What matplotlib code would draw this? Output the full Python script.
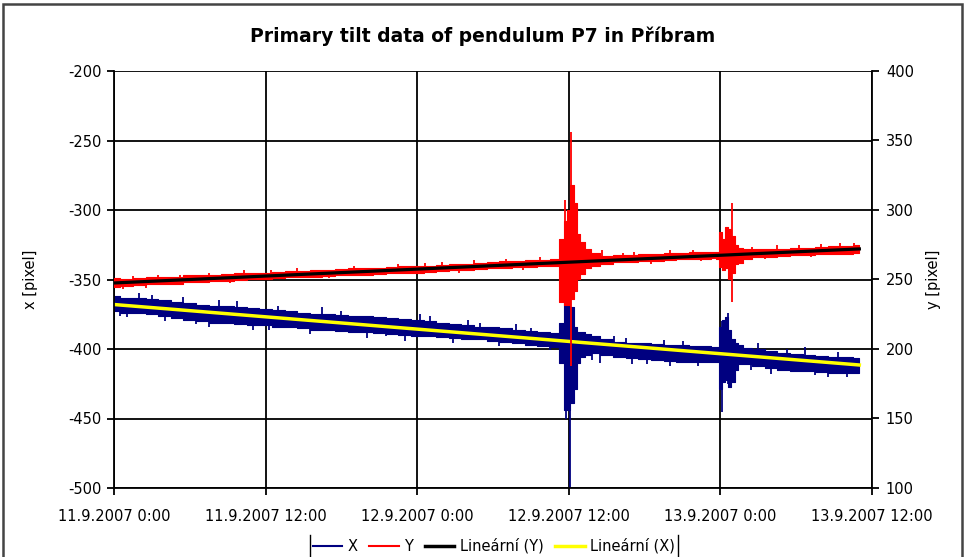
import matplotlib.pyplot as plt
from matplotlib.lines import Line2D
from matplotlib.patches import Rectangle

plt.rcParams['font.family'] = ['DejaVu Sans']
plt.rcParams['axes.unicode_minus'] = False

# time axis in hours since 11.9.2007 0:00 (finer steps around the two events)
t = [0, 1, 2, 3, 4, 5, 6, 7, 8, 9, 10, 11, 12, 13, 14, 15, 16, 17, 18, 19,
     20, 21, 22, 23, 24, 25, 26, 27, 28, 29, 30, 31, 32, 33, 34, 35,
     35.5, 35.75, 36, 36.25, 36.5, 36.75, 37, 37.5, 38,
     39, 40, 41, 42, 43, 44, 45, 46, 47,
     47.5, 47.75, 48, 48.25, 48.5, 48.75, 49, 49.25, 49.5,
     50, 51, 52, 53, 54, 55, 56, 57, 58, 59]

# upper / lower envelope of the X series (left axis)
x_hi = [-362, -363, -363.5, -364, -365, -366, -367, -368, -369, -369,
        -370, -370.5, -371, -372, -373, -374, -375, -375, -375.5, -376,
        -376.5, -377, -378, -378.5, -379, -380, -381, -382, -383, -384,
        -384.5, -385, -386, -387, -388, -388.5,
        -381, -360, -361, -370, -384, -388, -388, -389, -391,
        -393, -395, -395.5, -396, -396.5, -397, -397, -397.5, -398,
        -398.5, -398.5, -384, -379, -377, -386, -393, -396, -397,
        -399, -400, -401.5, -403, -403.5, -404, -405, -405.5, -406, -406.5]
x_lo = [-373, -374, -374, -375, -376.5, -377.5, -379, -380, -381, -381.5,
        -382, -382.5, -383, -384, -384.5, -385, -386, -386.5, -387, -387.5,
        -388, -388.5, -389.5, -390, -391, -391, -391.5, -392, -392.5, -393,
        -394, -395, -396, -397, -398, -398.5,
        -410, -444, -444, -439, -429, -410, -406, -404, -403,
        -404.5, -406, -406.5, -407.5, -408, -408.5, -409, -409, -409,
        -409, -409.5, -429, -424, -422, -427, -424, -415, -411,
        -411, -412, -413.5, -415, -415.5, -416, -416.5, -417, -417, -417.5]

# upper / lower envelope of the Y series (right axis)
y_hi = [251, 250.5, 251, 251.5, 252, 252, 253, 253, 253.5, 254,
        254.5, 254.5, 255, 255.5, 256, 256, 256.5, 257, 257.5, 258,
        258, 258.5, 259, 259.5, 260, 260, 260.5, 261.5, 261.5, 262,
        262.5, 263, 263.5, 264, 264, 264.5,
        279, 292, 300, 318, 305, 283, 277, 272, 269,
        267, 267.5, 267.5, 268, 268.5, 269, 269, 269.5, 269.5,
        270, 270, 284, 279, 288, 286, 281, 275, 273,
        272, 272, 272, 272, 272.5, 273, 273.5, 274, 274, 274.5]
y_lo = [244.5, 245.5, 246, 246.5, 247, 247, 248, 248.5, 249, 249,
        249.5, 250, 250.5, 251, 251.5, 251.5, 252, 252.5, 253, 253.5,
        253.5, 254, 254.5, 255, 255, 255.5, 256, 256.5, 257, 257.5,
        258, 258.5, 259, 259, 259.5, 260,
        234, 232, 232, 236, 242, 250, 254, 258, 260,
        261.5, 262.5, 262.5, 263, 263.5, 264, 264.5, 265, 265,
        265.5, 265, 259, 257, 258, 250, 255, 261, 262,
        264.5, 266, 266.5, 267, 267.5, 267.5, 268, 268.5, 268.5, 269]

# single narrow excursions: (hour, low, high)
x_peaks = [(0.5, -376, -366), (1.0, -377, -368), (2.0, -368, -360), (3.0, -371, -361.5),
           (4.0, -380, -371), (5.5, -371, -362.5), (6.5, -382, -372), (7.5, -384, -374),
           (8.3, -374, -365), (9.7, -372, -365.5), (11.0, -386, -376), (12.3, -386, -377),
           (13.0, -378, -369), (15.5, -389.5, -380), (16.5, -377, -370), (18.0, -381, -372.5),
           (20.0, -392, -382), (21.5, -391, -382), (23.0, -394, -384), (24.2, -382, -375),
           (25.0, -385, -376.5), (26.8, -395.5, -386), (28.0, -386, -379), (29.0, -388, -381),
           (30.5, -398, -389), (31.8, -390, -382), (33.0, -392, -385), (34.5, -401, -393),
           (35.8, -450, -400), (36.1, -500, -420), (37.8, -408, -397),
           (38.5, -410, -398), (39.6, -400, -391), (40.5, -400, -392), (41.0, -411, -400),
           (42.2, -411, -402), (43.5, -402, -393.5), (44.0, -412, -402), (45.0, -403, -394),
           (46.2, -412, -404), (48.1, -445, -380), (48.6, -425, -374),
           (50.4, -415, -405), (51.0, -406, -396), (52.0, -418, -407), (53.3, -408, -400),
           (54.7, -409, -398.5), (55.5, -419, -410), (56.5, -420, -410), (57.3, -410, -402),
           (58.0, -420, -411)]
y_peaks = [(0.7, 243, 247), (1.5, 248, 252.5), (2.5, 244, 248), (3.5, 249, 253.5),
           (5.2, 249, 253.5), (7.5, 250.5, 255), (9.2, 247.5, 251), (10.3, 252, 256.5),
           (12.4, 253, 257), (14.5, 253.5, 258), (17.0, 251, 254.5), (19.0, 255.5, 260),
           (20.6, 253, 256.5), (22.5, 257, 261.5), (24.6, 258, 262), (26.0, 258, 262.5),
           (27.3, 255, 258.5), (28.5, 259.5, 264), (31.0, 260.5, 265), (32.4, 257, 260.5),
           (33.7, 261.5, 266), (35.7, 262, 307), (36.2, 188, 356), (38.6, 264, 271),
           (40.3, 264, 269), (41.2, 265, 270), (42.5, 261, 265), (44.0, 266, 271),
           (45.8, 267, 271.5), (46.5, 263, 267), (48.9, 234, 305),
           (50.5, 268, 273.5), (51.5, 264.5, 268), (52.5, 269, 274.5), (54.2, 270, 275),
           (55.2, 266, 269.5), (56.0, 270.5, 275.5), (57.5, 271, 276), (58.6, 272, 276)]

# linear trend lines (end points)
trend_t = [0, 59]
x_trend = [-368, -411.5]
y_trend = [247.5, 272]

tick_hours = [0, 12, 24, 36, 48, 60]
tick_labels = ["11.9.2007 0:00", "11.9.2007 12:00", "12.9.2007 0:00",
               "12.9.2007 12:00", "13.9.2007 0:00", "13.9.2007 12:00"]

NAVY = "#000080"
RED = "#ff0000"

fig = plt.figure(figsize=(9.65, 5.57), dpi=100)
ax = fig.add_axes([114 / 965, 1 - 488 / 557, 758 / 965, 417 / 557])
ax2 = ax.twinx()

# X series
ax.fill_between(t, x_lo, x_hi, step="mid", color=NAVY, linewidth=0.8, edgecolor=NAVY)
ax.vlines([p[0] for p in x_peaks], [p[1] for p in x_peaks], [p[2] for p in x_peaks],
          color=NAVY, linewidth=1.3)
ax.plot(trend_t, x_trend, color="#ffff00", linewidth=2.5)

# Y series
ax2.fill_between(t, y_lo, y_hi, step="mid", color=RED, linewidth=0.8, edgecolor=RED)
ax2.vlines([p[0] for p in y_peaks], [p[1] for p in y_peaks], [p[2] for p in y_peaks],
           color=RED, linewidth=1.3)
ax2.plot(trend_t, y_trend, color="black", linewidth=2.3)

ax.set_xlim(0, 60)
ax.set_ylim(-500, -200)
ax2.set_ylim(100, 400)
ax.set_xticks(tick_hours)
ax.set_xticklabels(tick_labels)
ax.set_yticks(range(-500, -199, 50))
ax2.set_yticks(range(100, 401, 50))

ax.set_axisbelow(True)
ax.grid(True, color="black", linewidth=1.3)

for a in (ax, ax2):
    a.spines["top"].set_visible(False)
    for s in a.spines.values():
        s.set_linewidth(1.3)
ax.spines["right"].set_visible(False)
ax2.spines["left"].set_visible(False)
ax2.spines["bottom"].set_visible(False)

ax.tick_params(axis="both", direction="out", length=5, width=1.3, labelsize=10.5, pad=4)
ax.tick_params(axis="x", pad=10)
ax2.tick_params(axis="y", direction="out", length=5, width=1.3, labelsize=10.5, pad=5)

ax.set_ylabel("x [pixel]", fontsize=10.5)
ax.yaxis.set_label_coords(-76 / 758, 0.5)
ax2.set_ylabel("y [pixel]", fontsize=10.5, rotation=90)
ax2.yaxis.set_label_coords(1 + 54 / 758, 0.5)

fig.text(0.5, 1 - 36 / 557, "Primary tilt data of pendulum P7 in Příbram",
         ha="center", va="center", fontsize=13.5, fontweight="bold")

handles = [Line2D([], [], color=NAVY, linewidth=1.5),
           Line2D([], [], color=RED, linewidth=1.5),
           Line2D([], [], color="black", linewidth=2.5),
           Line2D([], [], color="#ffff00", linewidth=2.5)]
labels = ["X", "Y", "Lineární (Y)", "Lineární (X)"]
leg = fig.legend(handles, labels, loc="center", bbox_to_anchor=(494 / 965, 1 - 546 / 557),
                 ncol=4, frameon=False, fontsize=10.5, handlelength=2.0,
                 handletextpad=0.4, columnspacing=0.8, borderpad=0.2)

# chart border
fig.patches.append(Rectangle((3 / 965, -0.05), 959 / 965, 1.05 - 4 / 557,
                             transform=fig.transFigure, fill=False,
                             edgecolor="#444444", linewidth=1.8))

# legend box: only its side edges are visible in the cropped picture
fig.canvas.draw()
bb = leg.get_window_extent().transformed(fig.transFigure.inverted())
for xe in (bb.x0, bb.x1):
    fig.lines.append(Line2D([xe, xe], [-0.01, bb.y1], transform=fig.transFigure,
                            color="black", linewidth=1.0))

fig.savefig("out.png", dpi=100)
